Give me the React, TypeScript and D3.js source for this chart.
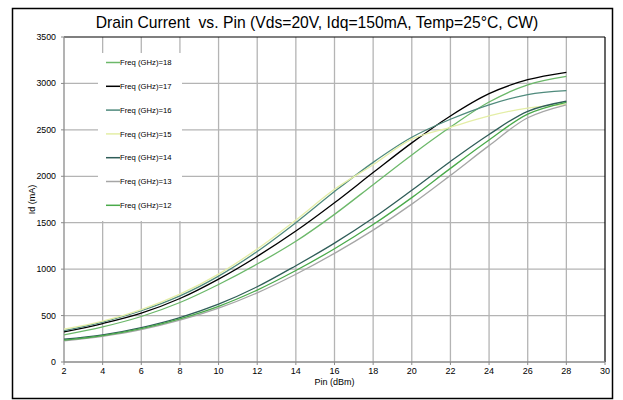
import React from "react";
import * as d3 from "d3";

const pinValues = [2, 4, 6, 8, 10, 12, 14, 16, 18, 20, 22, 24, 26, 28];
const freq18 = [292, 378, 490, 641, 835, 1055, 1300, 1590, 1910, 2230, 2530, 2800, 2985, 3075];
const freq17 = [324, 414, 526, 684, 893, 1137, 1410, 1715, 2040, 2360, 2650, 2890, 3040, 3120];
const freq16 = [338, 430, 552, 712, 925, 1190, 1500, 1835, 2150, 2420, 2614, 2770, 2880, 2922];
const freq15 = [353, 440, 565, 731, 947, 1217, 1529, 1860, 2125, 2400, 2528, 2650, 2735, 2775];
const freq14 = [245, 292, 371, 479, 623, 810, 1037, 1280, 1550, 1850, 2160, 2450, 2700, 2808];
const freq13 = [227, 277, 349, 450, 580, 745, 945, 1170, 1420, 1700, 2010, 2330, 2630, 2770];
const freq12 = [235, 285, 360, 465, 600, 775, 985, 1220, 1480, 1770, 2085, 2390, 2670, 2797];

const seriesNames = ["Freq (GHz)=18", "Freq (GHz)=17", "Freq (GHz)=16", "Freq (GHz)=15", "Freq (GHz)=14", "Freq (GHz)=13", "Freq (GHz)=12"];
const seriesValues = [freq18, freq17, freq16, freq15, freq14, freq13, freq12];
const seriesColors = ["#6cb86a", "#000000", "#4f8a7c", "#e4eea6", "#2f5d58", "#a6a6a6", "#4aaa4a"];

const xTicks = [2, 4, 6, 8, 10, 12, 14, 16, 18, 20, 22, 24, 26, 28, 30];
const yTicks = [0, 500, 1000, 1500, 2000, 2500, 3000, 3500];

const W = 623;
const H = 400;
const plot = { left: 64, right: 605, top: 37, bottom: 362 };
const font = "Liberation Sans, Arial, sans-serif";

export default function App() {
  const x = d3.scaleLinear().domain([2, 30]).range([plot.left, plot.right]);
  const y = d3.scaleLinear().domain([0, 3500]).range([plot.bottom, plot.top]);
  const line = d3
    .line<[number, number]>()
    .x((d) => x(d[0]))
    .y((d) => y(d[1]))
    .curve(d3.curveCatmullRom.alpha(0.5));

  const legendX = 98;
  const legendY = 53;
  const legendW = 84;
  const legendH = 168;
  const legendRowY = (i: number) => 62.5 + i * 23.8;

  return (
    <div style={{ position: "absolute", left: 0, top: 0 }}>
      <svg width={W} height={H} style={{ display: "block", background: "#fff" }}>
        <rect x={12.5} y={8.5} width={600} height={390} fill="#fff" stroke="#000" strokeWidth={1.5} />
        <text x={317} y={28} textAnchor="middle" fontFamily={font} fontSize={15.7} fill="#000" style={{ whiteSpace: "pre" }}>
          {"Drain Current\u00a0 vs. Pin (Vds=20V, Idq=150mA, Temp=25°C, CW)"}
        </text>
        {/* gridlines */}
        {xTicks.slice(1, -1).map((t) => (
          <line key={"gx" + t} x1={x(t)} x2={x(t)} y1={plot.top} y2={plot.bottom} stroke="#b4b4b4" strokeWidth={1.3} />
        ))}
        {yTicks.slice(1, -1).map((t) => (
          <line key={"gy" + t} x1={plot.left} x2={plot.right} y1={y(t)} y2={y(t)} stroke="#b4b4b4" strokeWidth={1.3} />
        ))}
        {/* frame */}
        <line x1={plot.left} x2={plot.right} y1={plot.top} y2={plot.top} stroke="#000" strokeWidth={1.2} />
        <line x1={plot.right} x2={plot.right} y1={plot.top} y2={plot.bottom} stroke="#000" strokeWidth={1.2} />
        <line x1={plot.left} x2={plot.left} y1={plot.top} y2={plot.bottom} stroke="#8a8a8a" strokeWidth={1.3} />
        <line x1={plot.left} x2={plot.right} y1={plot.bottom} y2={plot.bottom} stroke="#8a8a8a" strokeWidth={1.3} />
        {/* ticks */}
        {yTicks.map((t) => (
          <g key={"ty" + t}>
            <line x1={plot.left - 3} x2={plot.left} y1={y(t)} y2={y(t)} stroke="#8a8a8a" strokeWidth={1} />
            <text x={plot.left - 8} y={y(t) + 3} textAnchor="end" fontFamily={font} fontSize={8.8} fill="#000">
              {t}
            </text>
          </g>
        ))}
        {xTicks.map((t) => (
          <g key={"tx" + t}>
            <line x1={x(t)} x2={x(t)} y1={plot.bottom} y2={plot.bottom + 3} stroke="#8a8a8a" strokeWidth={1} />
            <text x={x(t)} y={plot.bottom + 11.5} textAnchor="middle" fontFamily={font} fontSize={9} fill="#000">
              {t}
            </text>
          </g>
        ))}
        <text
          transform={`translate(35, ${(plot.top + plot.bottom) / 2}) rotate(-90)`}
          textAnchor="middle"
          fontFamily={font}
          fontSize={9}
          fill="#000"
        >
          Id (mA)
        </text>
        <text x={(plot.left + plot.right) / 2} y={385} textAnchor="middle" fontFamily={font} fontSize={9} fill="#000">
          Pin (dBm)
        </text>
        {/* series */}
        {seriesValues.map((vals, i) => (
          <path
            key={seriesNames[i]}
            d={line(pinValues.map((p, j) => [p, vals[j]] as [number, number])) || ""}
            fill="none"
            stroke={seriesColors[i]}
            strokeWidth={1.3}
          />
        ))}
        {/* legend */}
        <rect x={legendX} y={legendY} width={legendW} height={legendH} fill="#fff" />
        {seriesNames.map((name, i) => (
          <g key={"lg" + name}>
            <line x1={106} x2={120} y1={legendRowY(i)} y2={legendRowY(i)} stroke={seriesColors[i]} strokeWidth={1.5} />
            <text x={120} y={legendRowY(i) + 2.7} fontFamily={font} fontSize={7.7} fill="#000">
              {name}
            </text>
          </g>
        ))}
      </svg>
    </div>
  );
}
